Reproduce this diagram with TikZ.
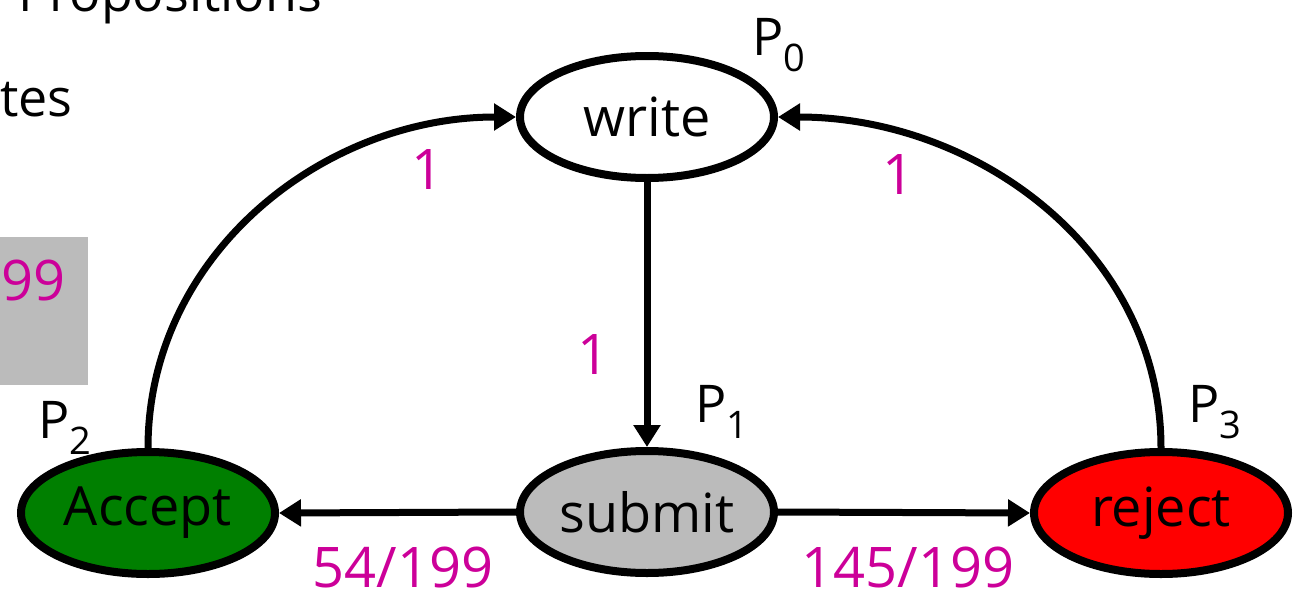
\documentclass[tikz,border=0pt]{standalone}
\usepackage{fontspec}
\setmainfont{Open Sans}
\usetikzlibrary{shapes.geometric,arrows.meta}
\definecolor{lbl}{HTML}{CC0099}
\definecolor{accgreen}{HTML}{007F00}
\definecolor{rejred}{HTML}{FF0000}
\definecolor{subgray}{HTML}{BBBBBB}
\newcommand\Psub[1]{P\raisebox{-0.32em}{\fontsize{38}{38}\selectfont #1}}
\begin{document}
\begin{tikzpicture}[x=1pt,y=-1pt,
  state/.style={ellipse,draw=black,line width=8pt,minimum width=254pt,
    minimum height=122pt,inner sep=0pt,font=\fontsize{54}{54}\selectfont},
  edge/.style={line width=7pt,-{Triangle[length=22pt,width=26pt]}},
  prob/.style={text=lbl,font=\fontsize{56}{56}\selectfont,inner sep=0pt},
  plabel/.style={font=\fontsize{52}{52}\selectfont,inner sep=0pt,anchor=base west},
  slide/.style={font=\fontsize{52}{52}\selectfont,inner sep=0pt}]
\useasboundingbox (0,0) rectangle (1301,597);
\clip (0,0) rectangle (1301,597);

% fragments of the surrounding slide
\node[slide,anchor=base west] (props) at (18,12) {Propositions};
\node[slide,anchor=base east] (sts) at (73,116) {tes};
\fill[subgray] (0,237) rectangle (88,385);
\node[prob,anchor=base east] (frac) at (66,300) {199};

% states
\node[state,fill=white] (write) at (647,117) {write};
\node[state,fill=subgray] (submit) at (647,512) {submit};
\node[state,fill=accgreen] (accept) at (148,513) {Accept};
\node[state,fill=rejred] (reject) at (1161,513) {reject};

% state propositions
\node[plabel] (p0) at (752,55) {\Psub{0}};
\node[plabel] (p1) at (695,422) {\Psub{1}};
\node[plabel] (p2) at (38,438) {\Psub{2}};
\node[plabel] (p3) at (1188,422) {\Psub{3}};

% transitions
\draw[edge] (write.south) -- (submit.north);
\draw[edge] (submit.west) -- (accept.east);
\draw[edge] (submit.east) -- (reject.west);
\draw[edge] (accept.north) to[out=90,in=180] (write.west);
\draw[edge] (reject.north) to[out=90,in=0] (write.east);

% transition probabilities
\node[prob] (l1) at (428,170) {1};
\node[prob] (l2) at (898,175) {1};
\node[prob] (l3) at (594,355) {1};
\node[prob] (l4) at (403,567) {54/199};
\node[prob] (l5) at (908,567) {145/199};
\end{tikzpicture}
\end{document}
